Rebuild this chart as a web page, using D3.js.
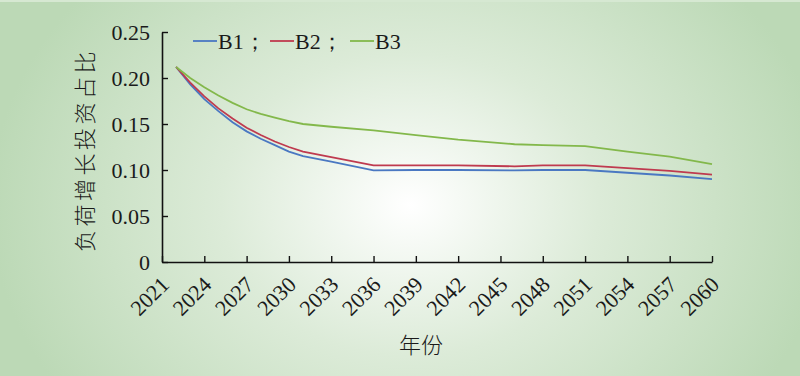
<!DOCTYPE html>
<meta charset="utf-8">
<style>
body { margin: 0; }
svg text { font-family: "Liberation Serif", "Times New Roman", serif; fill: #1a1a1a; }
.cjk { font-family: "Noto Sans CJK SC", sans-serif; font-weight: 300; }
</style>
<svg id="chart" width="800" height="376"></svg>
<script src="https://cdn.jsdelivr.net/npm/d3@7"></script>
<script>
var years = [2022, 2023, 2024, 2025, 2026, 2027, 2028, 2029, 2030, 2031, 2033, 2036, 2039, 2042, 2046, 2048, 2051, 2054, 2057, 2060];
var b1 = [0.212, 0.193, 0.177, 0.164, 0.152, 0.142, 0.134, 0.127, 0.120, 0.115, 0.109, 0.0996, 0.100, 0.100, 0.0995, 0.100, 0.100, 0.097, 0.094, 0.090];
var b2 = [0.212, 0.195, 0.180, 0.167, 0.156, 0.146, 0.138, 0.131, 0.125, 0.120, 0.114, 0.105, 0.105, 0.105, 0.104, 0.105, 0.105, 0.102, 0.099, 0.095];
var b3 = [0.212, 0.200, 0.190, 0.181, 0.173, 0.166, 0.161, 0.157, 0.153, 0.150, 0.147, 0.143, 0.138, 0.133, 0.128, 0.127, 0.126, 0.120, 0.1145, 0.1065];
var seriesNames = ["B1", "B2", "B3"];
var xTicks = [2021, 2024, 2027, 2030, 2033, 2036, 2039, 2042, 2045, 2048, 2051, 2054, 2057, 2060];
var yTicks = [0, 0.05, 0.10, 0.15, 0.20, 0.25];
var yTickLabels = ["0", "0.05", "0.10", "0.15", "0.20", "0.25"];

var color = ["#4a78c2", "#bf3a4f", "#83b84b"];

var svg = d3.select("svg");

// background glow
var defs = svg.append("defs");
var grad = defs.append("radialGradient")
    .attr("id", "bg")
    .attr("gradientUnits", "userSpaceOnUse")
    .attr("cx", 410).attr("cy", 205).attr("r", 420)
    .attr("gradientTransform", "translate(410,205) scale(1,0.8) translate(-410,-205)");
grad.append("stop").attr("offset", 0).attr("stop-color", "#ffffff");
grad.append("stop").attr("offset", 0.45).attr("stop-color", "#dcebd8");
grad.append("stop").attr("offset", 1).attr("stop-color", "#bcd9b6");

svg.append("rect").attr("width", 800).attr("height", 376).attr("fill", "url(#bg)");
svg.append("rect").attr("x", 0).attr("y", 0).attr("width", 800).attr("height", 2).attr("fill", "#d6e8d2");

var x = d3.scaleLinear().domain([2021, 2060]).range([162, 712]);
var y = d3.scaleLinear().domain([0, 0.25]).range([262, 32]);

// axes
var xAxis = svg.append("g")
    .attr("transform", "translate(0," + y(0) + ")")
    .call(d3.axisBottom(x).tickValues(xTicks).tickSizeInner(-6).tickSizeOuter(0).tickFormat(d3.format("d")));
xAxis.select(".domain").attr("stroke", "#111").attr("stroke-width", 1.6);
xAxis.selectAll(".tick line").attr("stroke", "#111").attr("stroke-width", 1.4);
xAxis.selectAll(".tick text")
    .attr("font-size", 22)
    .attr("text-anchor", "end")
    .attr("dy", 0)
    .attr("y", 0)
    .attr("transform", "translate(8,24) rotate(-45)");

var yAxis = svg.append("g")
    .attr("transform", "translate(" + x(2021) + ",0)")
    .call(d3.axisLeft(y).tickValues(yTicks).tickSizeInner(-6).tickSizeOuter(0)
      .tickFormat(function(d, i){ return yTickLabels[i]; }));
yAxis.select(".domain").attr("stroke", "#111").attr("stroke-width", 1.6);
yAxis.selectAll(".tick line").attr("stroke", "#111").attr("stroke-width", 1.4);
yAxis.selectAll(".tick text").attr("font-size", 22).attr("x", -12);
svg.selectAll(".tick text").attr("fill", "#1a1a1a");

// lines
var line = d3.line()
    .x(function(d){ return x(d[0]); })
    .y(function(d){ return y(d[1]); });

[b1, b2, b3].forEach(function(vals, i) {
  svg.append("path")
      .datum(years.map(function(yr, k){ return [yr, vals[k]]; }))
      .attr("fill", "none")
      .attr("stroke", color[i])
      .attr("stroke-width", 1.8)
      .attr("d", line);
});

// legend
var legX = [193, 270, 350];
seriesNames.forEach(function(name, i) {
  svg.append("line")
      .attr("x1", legX[i]).attr("x2", legX[i] + 24)
      .attr("y1", 41).attr("y2", 41)
      .attr("stroke", color[i]).attr("stroke-width", 1.8);
  svg.append("text")
      .attr("x", legX[i] + 25).attr("y", 49)
      .attr("font-size", 22)
      .text(name + (i < 2 ? "；" : ""));
});

// axis titles
svg.append("text")
    .attr("class", "cjk")
    .attr("transform", "translate(93,150) rotate(-90)")
    .attr("text-anchor", "middle")
    .attr("font-size", 22)
    .attr("letter-spacing", 3.5)
    .attr("fill", "#222")
    .text("负荷增长投资占比");

svg.append("text")
    .attr("class", "cjk")
    .attr("x", 421).attr("y", 353)
    .attr("text-anchor", "middle")
    .attr("font-size", 22)
    .attr("fill", "#222")
    .text("年份");
</script>
